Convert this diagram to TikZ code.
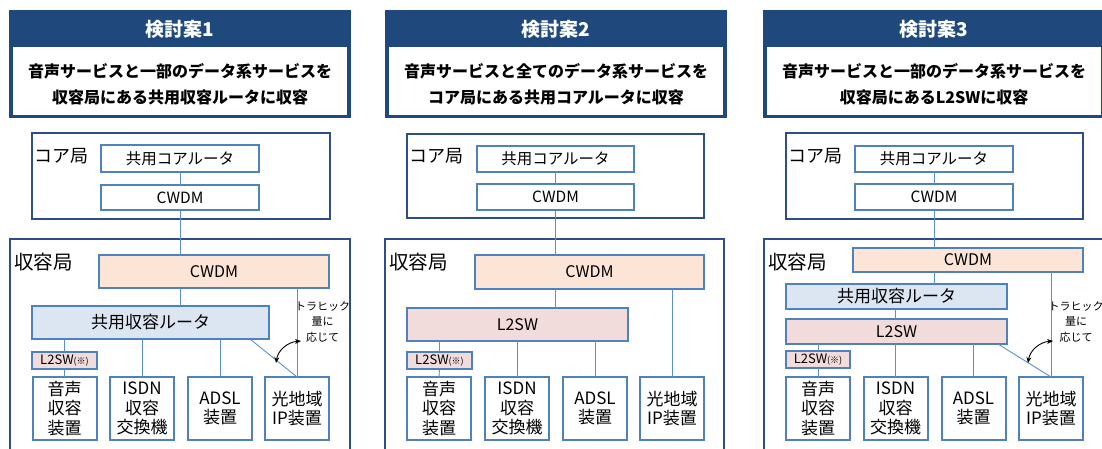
\documentclass[tikz,border=0pt]{standalone}
\usepackage{fontspec}
\setmainfont{Noto Sans CJK JP}
\usetikzlibrary{arrows.meta}
\definecolor{hdrblue}{HTML}{1F497D}
\definecolor{stnblue}{HTML}{2B4F86}
\definecolor{boxblue}{HTML}{4F81BD}
\definecolor{linkblue}{HTML}{5B8FCF}
\definecolor{cwdmfill}{HTML}{FCE4D6}
\definecolor{rtrfill}{HTML}{DCE6F2}
\definecolor{swfill}{HTML}{F2DCDB}
\begin{document}
\begin{tikzpicture}[x=1pt,y=-1pt,
  hdrbox/.style={rectangle,fill=hdrblue,draw=none,inner sep=0pt,outer sep=0pt,minimum width=342pt,minimum height=108pt},
  hdrwhite/.style={rectangle,fill=white,draw=none,inner sep=0pt,outer sep=0pt,minimum width=334pt,minimum height=68pt},
  hdrtitle/.style={text=white,font=\fontsize{19}{22}\selectfont\bfseries,inner sep=0pt},
  hdrtext/.style={align=center,font=\fontsize{16}{26}\selectfont\bfseries,inner sep=0pt},
  station/.style={rectangle,draw=stnblue,line width=2pt,inner sep=0pt,outer sep=0pt},
  unitbox/.style={rectangle,draw=boxblue,line width=2pt,fill=white,inner sep=0pt,outer sep=0pt,font=\fontsize{16}{19}\selectfont},
  devbox/.style={unitbox,minimum width=64pt,minimum height=63pt,align=center,font=\fontsize{17}{19.5}\selectfont},
  swsmall/.style={unitbox,fill=swfill,minimum width=65pt,minimum height=17pt,font=\fontsize{13}{15}\selectfont},
  lbl/.style={anchor=west,inner sep=0pt},
  link/.style={draw=linkblue,line width=0.9pt},
  note/.style={align=center,inner sep=0pt,font=\fontsize{11}{15.5}\selectfont},
  curvearrow/.style={draw=black,line width=0.9pt,{Stealth[length=6pt,width=5pt]}-{Stealth[length=6pt,width=5pt]}}
]
\useasboundingbox (0,0) rectangle (1102,448);
\clip (0,0) rectangle (1102,448);

% ================= Panel 1 =================
\begin{scope}
\node[hdrbox] (p1h) at (180,64) {};
\node[hdrwhite] (p1w) at (180,81) {};
\node[hdrtitle] (p1t) at (180,29) {検討案1};
\node[hdrtext] (p1s) at (180,84) {音声サービスと一部のデータ系サービスを\\収容局にある共用収容ルータに収容};
\node[station,minimum width=298pt,minimum height=86pt] (p1core) at (181,176) {};
\node[lbl,font=\fontsize{18}{20}\selectfont] (p1cl) at (34,156) {コア局};
\node[unitbox,minimum width=158pt,minimum height=27pt,font=\fontsize{15.5}{18}\selectfont] (p1cr) at (180,158.5) {共用コアルータ};
\node[unitbox,minimum width=158pt,minimum height=25pt,font=\fontsize{15.5}{18}\selectfont] (p1cc) at (180,197.5) {CWDM};
\node[station,minimum width=340pt,minimum height=240pt] (p1acc) at (180,359) {};
\node[lbl,font=\fontsize{19.5}{22}\selectfont] (p1al) at (14,262) {収容局};
\node[unitbox,fill=cwdmfill,minimum width=230pt,minimum height=33pt] (p1cw) at (214,271.5) {CWDM};
\node[unitbox,fill=rtrfill,minimum width=237pt,minimum height=33pt,font=\fontsize{17}{19}\selectfont] (p1rt) at (150.5,322.5) {共用収容ルータ};
\node[swsmall] (p1sw) at (64.5,360.5) {L2SW{\fontsize{9}{10}\selectfont (※)}};
\node[devbox] (p1b1) at (64.5,408.5) {音声\\収容\\装置};
\node[devbox] (p1b2) at (142,408.5) {ISDN\\収容\\交換機};
\node[devbox] (p1b3) at (220,408.5) {ADSL\\装置};
\node[devbox] (p1b4) at (297,408.5) {光地域\\IP装置};
\draw[link] (p1cr.south) -- (p1cc.north);
\draw[link] (p1cc.south) -- (p1cc.south |- p1cw.north);
\draw[link] (p1cc.south |- p1cw.south) -- (p1cc.south |- p1rt.north);
\draw[link] (p1cw.south -| p1b4.north) -- (p1b4.north);
\draw[link] (p1sw.north |- p1rt.south) -- (p1sw.north);
\draw[link] (p1sw.south) -- (p1b1.north);
\draw[link] (p1b2.north |- p1rt.south) -- (p1b2.north);
\draw[link] (p1b3.north |- p1rt.south) -- (p1b3.north);
\coordinate (p1d) at (250,339);
\draw[link] (p1d) -- (p1b4.north);
\node[note] (p1n) at (322.5,321.5) {トラヒック\\量に\\応じて};
\coordinate (p1a1) at (276,363);
\coordinate (p1a2) at (301,341);
\draw[curvearrow] (p1a1) .. controls (278,350) and (288,342) .. (p1a2);
\end{scope}

% ================= Panel 2 =================
\begin{scope}[xshift=375pt]
\node[hdrbox] (p2h) at (181,64) {};
\node[hdrwhite] (p2w) at (181,81) {};
\node[hdrtitle] (p2t) at (181,29) {検討案2};
\node[hdrtext] (p2s) at (181,84) {音声サービスと全てのデータ系サービスを\\コア局にある共用コアルータに収容};
\node[station,minimum width=297pt,minimum height=84pt] (p2core) at (180.5,176) {};
\node[lbl,font=\fontsize{18}{20}\selectfont] (p2cl) at (34,156) {コア局};
\node[unitbox,minimum width=157pt,minimum height=26pt,font=\fontsize{15.5}{18}\selectfont] (p2cr) at (180.5,159) {共用コアルータ};
\node[unitbox,minimum width=157pt,minimum height=26pt,font=\fontsize{15.5}{18}\selectfont] (p2cc) at (180.5,197) {CWDM};
\node[station,minimum width=339pt,minimum height=240pt] (p2acc) at (179.5,359) {};
\node[lbl,font=\fontsize{19.5}{22}\selectfont] (p2al) at (14,262) {収容局};
\node[unitbox,fill=cwdmfill,minimum width=229pt,minimum height=34pt] (p2cw) at (214.5,272) {CWDM};
\node[unitbox,fill=swfill,minimum width=221pt,minimum height=33pt] (p2rt) at (142.5,324.5) {L2SW};
\node[swsmall] (p2sw) at (64.5,360.5) {L2SW{\fontsize{9}{10}\selectfont (※)}};
\node[devbox] (p2b1) at (64,408.5) {音声\\収容\\装置};
\node[devbox] (p2b2) at (142,408.5) {ISDN\\収容\\交換機};
\node[devbox] (p2b3) at (220,408.5) {ADSL\\装置};
\node[devbox] (p2b4) at (297,408.5) {光地域\\IP装置};
\draw[link] (p2cr.south) -- (p2cc.north);
\draw[link] (p2cc.south) -- (p2cc.south |- p2cw.north);
\draw[link] (p2cc.south |- p2cw.south) -- (p2cc.south |- p2rt.north);
\draw[link] (p2cw.south -| p2b4.north) -- (p2b4.north);
\draw[link] (p2sw.north |- p2rt.south) -- (p2sw.north);
\draw[link] (p2sw.south) -- (p2b1.north);
\draw[link] (p2b2.north |- p2rt.south) -- (p2b2.north);
\draw[link] (p2b3.north |- p2rt.south) -- (p2b3.north);
\end{scope}

% ================= Panel 3 =================
\begin{scope}[xshift=754pt]
\node[hdrbox] (p3h) at (180,64) {};
\node[hdrwhite] (p3w) at (180,81) {};
\node[hdrtitle] (p3t) at (180,29) {検討案3};
\node[hdrtext] (p3s) at (180,84) {音声サービスと一部のデータ系サービスを\\収容局にあるL2SWに収容};
\node[station,minimum width=297pt,minimum height=86pt] (p3core) at (180.5,176) {};
\node[lbl,font=\fontsize{18}{20}\selectfont] (p3cl) at (34,156) {コア局};
\node[unitbox,minimum width=158pt,minimum height=26pt,font=\fontsize{15.5}{18}\selectfont] (p3cr) at (180,159) {共用コアルータ};
\node[unitbox,minimum width=158pt,minimum height=26pt,font=\fontsize{15.5}{18}\selectfont] (p3cc) at (180,197) {CWDM};
\node[station,minimum width=340pt,minimum height=240pt] (p3acc) at (180,359) {};
\node[lbl,font=\fontsize{19.5}{22}\selectfont] (p3al) at (14,262) {収容局};
\node[unitbox,fill=cwdmfill,minimum width=230pt,minimum height=24pt] (p3cw) at (214,260) {CWDM};
\node[unitbox,fill=rtrfill,minimum width=221pt,minimum height=25pt,font=\fontsize{17}{19}\selectfont] (p3rt) at (142.5,296.5) {共用収容ルータ};
\node[unitbox,fill=swfill,minimum width=221pt,minimum height=25pt] (p3l2) at (142.5,331.5) {L2SW};
\node[swsmall,minimum width=64pt] (p3sw) at (64,359.5) {L2SW{\fontsize{9}{10}\selectfont (※)}};
\node[devbox] (p3b1) at (64,408.5) {音声\\収容\\装置};
\node[devbox] (p3b2) at (141.5,408.5) {ISDN\\収容\\交換機};
\node[devbox] (p3b3) at (219.5,408.5) {ADSL\\装置};
\node[devbox] (p3b4) at (297,408.5) {光地域\\IP装置};
\draw[link] (p3cr.south) -- (p3cc.north);
\draw[link] (p3cc.south) -- (p3cc.south |- p3cw.north);
\draw[link] (p3cc.south |- p3cw.south) -- (p3cc.south |- p3rt.north);
\draw[link] (p3rt.south -| p3b2.north) -- (p3l2.north -| p3b2.north);
\draw[link] (p3cw.south -| p3b4.north) -- (p3b4.north);
\draw[link] (p3sw.north |- p3l2.south) -- (p3sw.north);
\draw[link] (p3sw.south) -- (p3b1.north);
\draw[link] (p3b2.north |- p3l2.south) -- (p3b2.north);
\draw[link] (p3b3.north |- p3l2.south) -- (p3b3.north);
\coordinate (p3d) at (244,344);
\draw[link] (p3d) -- (p3b4.north);
\node[note] (p3n) at (322,321.5) {トラヒック\\量に\\応じて};
\coordinate (p3a1) at (274,363);
\coordinate (p3a2) at (299,341);
\draw[curvearrow] (p3a1) .. controls (276,350) and (286,342) .. (p3a2);
\end{scope}
\end{tikzpicture}
\end{document}
